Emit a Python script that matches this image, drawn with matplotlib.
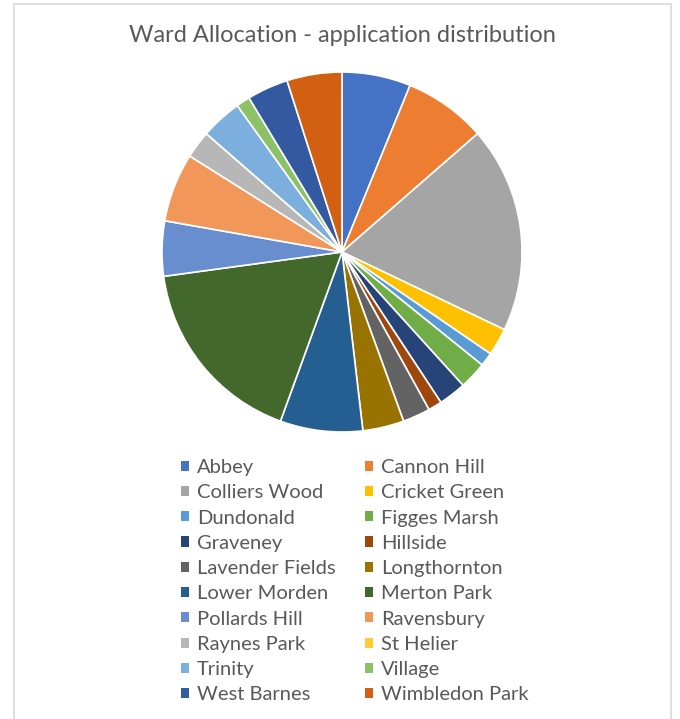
import matplotlib.pyplot as plt
from matplotlib.patches import Patch, Rectangle

# Ward names and number of applications per ward
wards = ["Abbey", "Cannon Hill", "Colliers Wood", "Cricket Green", "Dundonald",
         "Figges Marsh", "Graveney", "Hillside", "Lavender Fields", "Longthornton",
         "Lower Morden", "Merton Park", "Pollards Hill", "Ravensbury", "Raynes Park",
         "St Helier", "Trinity", "Village", "West Barnes", "Wimbledon Park"]
applications = [5, 6, 15, 2, 1, 2, 2, 1, 2, 3, 6, 14, 4, 5, 2, 0, 3, 1, 3, 4]

# Office-style palette
colours = ["#4472C4", "#ED7D31", "#A5A5A5", "#FFC000", "#5B9BD5", "#70AD47",
           "#264478", "#9E480E", "#636363", "#997300", "#255E91", "#43682B",
           "#698ED0", "#F1975A", "#B7B7B7", "#FFCD33", "#7CAFDD", "#8CC168",
           "#335AA1", "#D26012"]

plt.rcParams['font.family'] = ['Lato', 'DejaVu Sans']
text_col = "#595959"

fig = plt.figure(figsize=(6.8, 7.19), dpi=100)

# light chart border
fig.patches.append(Rectangle((14 / 680, -0.01), (671 - 14) / 680, (719 - 3.5) / 719 + 0.01,
                             transform=fig.transFigure, fill=False,
                             edgecolor="#D9D9D9", linewidth=1.2))

fig.text(342 / 680, 1 - 35 / 719, "Ward Allocation - application distribution",
         ha="center", va="center", fontsize=17, color=text_col)

ax = fig.add_axes([(342 - 180) / 680, 1 - 432 / 719, 360 / 680, 360 / 719])
ax.pie(applications, colors=colours, startangle=90, counterclock=False,
       radius=1, wedgeprops=dict(edgecolor="white", linewidth=1.2))
ax.set_xlim(-1, 1)
ax.set_ylim(-1, 1)
ax.set_aspect("equal")
ax.axis("off")

# legend: two columns read row by row, one legend per column
handles = [Patch(facecolor=c, edgecolor="none") for c in colours]
for col, x0 in enumerate([181, 365]):
    idx = list(range(col, 20, 2))
    leg = fig.legend([handles[i] for i in idx], [wards[i] for i in idx],
                     loc="upper left", bbox_to_anchor=(x0 / 680, 1 - 459 / 719),
                     frameon=False, fontsize=14.5, handlelength=0.4, handleheight=0.4,
                     handletextpad=0.4, labelspacing=0.41, borderpad=0,
                     borderaxespad=0)
    for t in leg.get_texts():
        t.set_color(text_col)

fig.savefig("out.png", dpi=100)
